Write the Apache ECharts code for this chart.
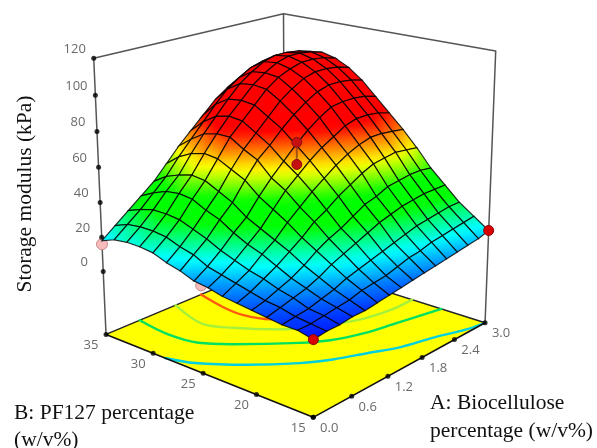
<!DOCTYPE html>
<html><head><meta charset="utf-8">
<style>html,body{margin:0;padding:0;background:#fff}#c{width:597px;height:448px}</style>
<script src="https://cdn.jsdelivr.net/npm/echarts@6/dist/echarts.min.js"></script>
</head><body><div id="c"></div>
<script>
// ---- data ----
const aTicks = [0.0, 0.6, 1.2, 1.8, 2.4, 3.0];
const bTicks = [15, 20, 25, 30, 35];
const zTicks = [0, 20, 40, 60, 80, 100, 120];
const aRange = [0, 3];
const bRange = [15, 35];
const zRange = [-37.6, 120];
// storage modulus, rows = B from 15 to 35, columns = A from 0 to 3
const surfaceZ = [
[4,5,5,6,6,7,8,9,10,11,12,13,14,15,16,18],
[6,6,7,8,9,11,12,13,15,17,18,20,21,22,23,24],
[6,7,8,10,12,15,17,19,21,23,25,27,28,29,30,30],
[7,9,11,13,16,20,23,26,29,32,34,36,37,38,38,38],
[8,10,13,16,20,25,29,32,36,40,42,45,46,47,47,46],
[9,12,16,20,25,30,36,40,45,49,53,56,57,58,57,56],
[10,14,18,24,29,36,42,48,53,58,62,65,67,67,66,65],
[12,16,21,27,33,41,49,55,61,66,70,74,76,76,75,73],
[13,18,24,31,37,46,54,61,68,74,79,83,84,84,83,81],
[16,22,28,36,43,53,62,68,75,81,86,90,92,92,91,89],
[18,24,31,39,47,57,66,73,80,87,92,96,98,98,97,95],
[21,27,34,43,51,61,71,78,85,92,97,100,102,102,101,99],
[22,28,35,44,52,62,71,79,86,93,98,102,104,104,103,101],
[22,28,35,43,50,60,69,77,85,92,97,101,103,103,102,100],
[21,27,33,40,47,56,64,72,80,87,92,96,98,98,97,95],
[18,24,30,36,42,50,58,65,72,79,84,88,90,90,89,88]
];
// floor contours: [A, B]
const contourCyan = [[0,28.8],[.12,26.6],[.45,23.6],[.84,21],[1.14,19.6],[1.5,18.4],[1.86,17.2],[2.28,16.4],[2.7,15.4],[3,15]];
const contourGreen = [[.51,35],[.45,31.6],[.51,28.8],[.72,26.8],[1.23,23.2],[1.5,21.8],[1.89,20.7],[2.34,20],[3,19]];
const contourLime = [[1.08,35],[.9,31],[1.05,28.7],[1.34,26],[1.83,23.6],[2.19,22.4],[2.64,21.8],[3,21.8]];
const contourOrange = [[1.5,35],[1.4,32],[1.38,29.8],[1.5,27.6],[1.8,25.6],[2.46,24],[3,24.4]];
// design points: [A, B, modulus]
const pointsAbove = [[0,15,4],[3,15,18]];
const pointsCentre = [[1.5,25,59],[1.5,25,71.5]];
const pointsBelow = [[0,35,16],[0,25,12]];

// ---- view: seven box corners on the page fix a perspective projection ----
const viewAnchors = [
 [0,0,0,313,417],[0,1,0,106,335],[1,0,0,485,323],[1,1,0,285,259],
 [0,1,1,94,58],[1,0,1,496,51],[1,1,1,283,14]];
function solveCamera(){
  const M=[],R=[];
  viewAnchors.forEach(([a,b,c,x,y])=>{
    M.push([a,b,c,1,0,0,0,0,-x*a,-x*b,-x*c]);R.push(x);
    M.push([0,0,0,0,a,b,c,1,-y*a,-y*b,-y*c]);R.push(y);
  });
  const n=11,N=[];
  for(let r=0;r<n;r++){N.push([]);for(let s=0;s<=n;s++){let t=0;
    for(let k=0;k<M.length;k++)t+=M[k][r]*(s<n?M[k][s]:R[k]);N[r].push(t);}}
  for(let p=0;p<n;p++){let m=p;for(let r=p+1;r<n;r++)if(Math.abs(N[r][p])>Math.abs(N[m][p]))m=r;
    [N[p],N[m]]=[N[m],N[p]];
    for(let r=0;r<n;r++){if(r===p)continue;const f=N[r][p]/N[p][p];for(let s=p;s<=n;s++)N[r][s]-=f*N[p][s];}}
  return N.map((row,i)=>row[n]/row[i]);
}
const cam=solveCamera();
function project(A,B,Z){
  const a=(A-aRange[0])/(aRange[1]-aRange[0]),b=(B-bRange[0])/(bRange[1]-bRange[0]),c=(Z-zRange[0])/(zRange[1]-zRange[0]);
  const w=cam[8]*a+cam[9]*b+cam[10]*c+1;
  return [(cam[0]*a+cam[1]*b+cam[2]*c+cam[3])/w,(cam[4]*a+cam[5]*b+cam[6]*c+cam[7])/w];
}
const floorZ=zRange[0],topZ=zRange[1];

// ---- colour scale ----
const colorScale=[[3,[0,0,255]],[20,[0,255,255]],[34,[0,255,0]],[44,[0,255,0]],[57,[255,255,0]],[74,[255,0,0]],[125,[255,0,0]]];
function colorAt(z){
  if(z<=colorScale[0][0])return colorScale[0][1];
  for(let k=1;k<colorScale.length;k++){
    if(z<=colorScale[k][0]){const[z0,c0]=colorScale[k-1],[z1,c1]=colorScale[k],t=(z-z0)/(z1-z0);
      return c0.map((v,q)=>Math.round(v+(c1[q]-v)*t));}
  }
  return colorScale[colorScale.length-1][1];
}
const rgb=c=>`rgb(${c[0]},${c[1]},${c[2]})`;

// ---- surface cells, far corner first ----
const nA=surfaceZ[0].length,nB=surfaceZ.length;
const cells=[];
for(let i=nA-2;i>=0;i--)for(let j=nB-2;j>=0;j--)cells.push([i,j]);
const aAt=i=>aRange[0]+(aRange[1]-aRange[0])*i/(nA-1);
const bAt=j=>bRange[0]+(bRange[1]-bRange[0])*j/(nB-1);
function renderCell(params,api){
  const i=api.value(0),j=api.value(1);
  const verts=[[i,j],[i+1,j],[i+1,j+1],[i,j+1]].map(([p,q])=>{
    const z=surfaceZ[q][p];const s=api.coord(project(aAt(p),bAt(q),z));return {s,z};});
  let lo=verts[0],hi=verts[0];
  verts.forEach(v=>{if(v.z<lo.z)lo=v;if(v.z>hi.z)hi=v;});
  const stops=[];
  for(let k=0;k<=4;k++)stops.push({offset:k/4,color:rgb(colorAt(lo.z+(hi.z-lo.z)*k/4))});
  const fill=hi.z>lo.z?{type:'linear',global:true,x:lo.s[0],y:lo.s[1],x2:hi.s[0],y2:hi.s[1],colorStops:stops}:stops[0].color;
  return {type:'polygon',shape:{points:verts.map(v=>v.s)},
    style:{fill,stroke:'rgba(0,0,0,0.82)',lineWidth:1.2}};
}
function renderFloor(params,api){
  const p=[[aRange[0],bRange[0]],[aRange[1],bRange[0]],[aRange[1],bRange[1]],[aRange[0],bRange[1]]];
  return {type:'polygon',shape:{points:p.map(q=>api.coord(project(q[0],q[1],floorZ)))},style:{fill:'#ffff00'}};
}
const lineSeries=(pts,color,width,z,smooth)=>({type:'line',data:pts,symbol:'none',smooth:smooth?0.35:false,z,silent:true,
  lineStyle:{color,width,cap:'round',join:'round'},animation:false});
const contour=(arr,color)=>lineSeries(arr.map(p=>project(p[0],p[1],floorZ)),color,2.4,3,true);
const aMin=aRange[0],aMax=aRange[1],bMin=bRange[0],bMax=bRange[1];
const dotSeries=(pts,size,color,border,z,bw)=>({type:'scatter',data:pts.map(p=>project(p[0],p[1],p[2])),symbolSize:size,z,silent:true,
  itemStyle:{color,borderColor:border,borderWidth:bw||1,opacity:1},animation:false});
const tickSeries=(pts,labels,off)=>({type:'scatter',symbolSize:5,z:7,silent:true,animation:false,
  itemStyle:{color:'#000'},
  data:pts.map((p,k)=>({value:project(p[0],p[1],p[2]),label:{formatter:labels[k]}})),
  label:{show:true,position:'inside',offset:off,color:'#444',fontFamily:'Open Sans',fontSize:13}});
const boxColor='#555';
const series=[
  {type:'custom',data:[[0,0]],renderItem:renderFloor,z:1,silent:true,animation:false,clip:false},
  lineSeries([project(aMin,bMax,floorZ),project(aMin,bMin,floorZ),project(aMax,bMin,floorZ)],'#111',1.6,6),
  lineSeries([project(aMin,bMax,floorZ),project(aMax,bMax,floorZ),project(aMax,bMin,floorZ)],'#222',1.4,2),
  contour(contourOrange,'#ff5a10'),contour(contourLime,'#a6f03c'),contour(contourGreen,'#00e060'),contour(contourCyan,'#00d0e0'),
  lineSeries([project(aMin,bMax,floorZ),project(aMin,bMax,topZ),project(aMax,bMax,topZ),project(aMax,bMin,topZ),project(aMax,bMin,floorZ)],boxColor,1.5,2),
  lineSeries([project(aMax,bMax,topZ),project(aMax,bMax,floorZ)],boxColor,1.5,2),
  dotSeries(pointsBelow,11,'#f8bcbc','#c88888',4),
  {type:'custom',data:cells,renderItem:renderCell,z:5,silent:true,animation:false,clip:false},
  lineSeries(pointsCentre.map(p=>project(p[0],p[1],p[2])),'rgba(120,60,20,0.7)',2,6),
  dotSeries(pointsAbove,10,'#d80000','#900000',7),
  dotSeries(pointsCentre,10,'#c41010','#8a1010',7),
  tickSeries(zTicks.map(z=>[aMin,bMax,z]),zTicks.map(String),[-19,-9]),
  tickSeries(bTicks.map(b=>[aMin,b,floorZ]),bTicks.map(String),[-15,11]),
  tickSeries(aTicks.map(a=>[a,bMin,floorZ]),aTicks.map(v=>v.toFixed(1)),[16,11])
];
const titleStyle={fontFamily:'Liberation Serif',fontSize:21.5,fill:'#111'};
const chart=echarts.init(document.getElementById('c'),null,{renderer:'canvas'});
chart.setOption({
  animation:false,backgroundColor:'#fff',
  grid:{left:0,right:0,top:0,bottom:0},
  xAxis:{type:'value',min:0,max:597,show:false},
  yAxis:{type:'value',min:0,max:448,inverse:true,show:false},
  series,
  graphic:[
   {type:'text',x:25,y:194,rotation:Math.PI/2,style:Object.assign({text:'Storage modulus (kPa)',align:'center',verticalAlign:'middle'},titleStyle)},
   {type:'text',x:430,y:403,style:Object.assign({text:'A: Biocellulose',verticalAlign:'middle'},titleStyle)},
   {type:'text',x:430,y:431,style:Object.assign({text:'percentage (w/v%)',verticalAlign:'middle'},titleStyle)},
   {type:'text',x:14,y:413,style:Object.assign({text:'B: PF127 percentage',verticalAlign:'middle'},titleStyle)},
   {type:'text',x:14,y:440,style:Object.assign({text:'(w/v%)',verticalAlign:'middle'},titleStyle)}
  ]
});
</script></body></html>
